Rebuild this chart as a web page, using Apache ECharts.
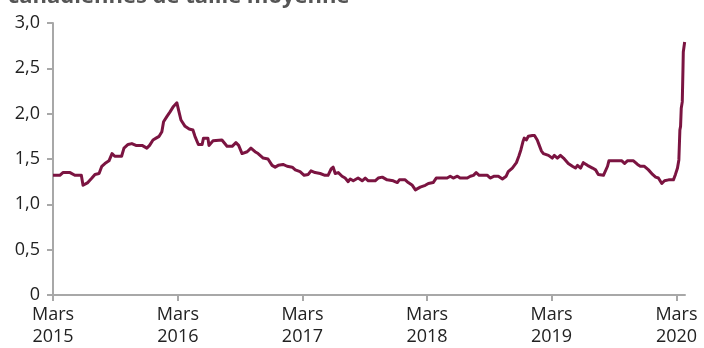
<!DOCTYPE html>
<html>
<head>
<meta charset="utf-8">
<script src="https://cdn.jsdelivr.net/npm/echarts@6/dist/echarts.min.js"></script>
<style>
  html, body { margin: 0; padding: 0; background: #fff; }
  #chart { width: 704px; height: 348px; }
</style>
</head>
<body>
<div id="chart"></div>
<script>
// Weekly-ish readings of the ratio, March 2015 to March 2020
const dates = [
  '2015-03-01','2015-03-21','2015-03-30','2015-04-20','2015-05-04','2015-05-23','2015-05-28','2015-06-11',
  '2015-06-23','2015-07-02','2015-07-14','2015-07-22','2015-07-31','2015-08-12','2015-08-21','2015-08-25',
  '2015-08-29','2015-09-18','2015-09-25','2015-10-07','2015-10-18','2015-10-30','2015-11-17','2015-12-01',
  '2015-12-09','2015-12-19','2015-12-28','2016-01-06','2016-01-14','2016-01-19','2016-01-29','2016-02-07',
  '2016-02-17','2016-02-27','2016-03-03','2016-03-10','2016-03-22','2016-04-03','2016-04-14','2016-04-20',
  '2016-04-30','2016-05-11','2016-05-15','2016-05-28','2016-05-31','2016-06-12','2016-07-08','2016-07-23',
  '2016-08-07','2016-08-18','2016-08-26','2016-09-05','2016-09-20','2016-10-01','2016-10-13','2016-10-22',
  '2016-11-06','2016-11-20','2016-12-02','2016-12-11','2016-12-20','2017-01-03','2017-01-15','2017-01-30',
  '2017-02-08','2017-02-22','2017-03-06','2017-03-18','2017-03-26','2017-04-07','2017-04-22','2017-05-06',
  '2017-05-15','2017-05-24','2017-05-30','2017-06-05','2017-06-14','2017-06-25','2017-07-04','2017-07-13',
  '2017-07-19','2017-07-28','2017-08-11','2017-08-23','2017-09-01','2017-09-10','2017-09-30','2017-10-09',
  '2017-10-21','2017-11-04','2017-11-22','2017-12-04','2017-12-10','2017-12-27','2018-01-05','2018-01-17',
  '2018-01-26','2018-01-31','2018-02-09','2018-02-24','2018-03-05','2018-03-19','2018-03-28','2018-04-29',
  '2018-05-08','2018-05-17','2018-05-29','2018-06-06','2018-06-27','2018-07-06','2018-07-15','2018-07-23',
  '2018-08-01','2018-08-25','2018-09-02','2018-09-14','2018-09-26','2018-10-08','2018-10-19','2018-10-25',
  '2018-11-06','2018-11-18','2018-11-25','2018-12-01','2018-12-07','2018-12-11','2018-12-17','2018-12-23',
  '2019-01-04','2019-01-10','2019-01-18','2019-01-24','2019-01-30','2019-02-05','2019-02-20','2019-03-03',
  '2019-03-09','2019-03-18','2019-03-27','2019-04-05','2019-04-19','2019-05-01','2019-05-10','2019-05-16',
  '2019-05-25','2019-06-02','2019-06-14','2019-06-29','2019-07-08','2019-07-16','2019-07-31','2019-08-12',
  '2019-08-16','2019-09-23','2019-10-01','2019-10-09','2019-10-27','2019-11-08','2019-11-16','2019-11-28',
  '2019-12-10','2019-12-22','2019-12-31','2020-01-08','2020-01-18','2020-01-26','2020-02-07','2020-02-21',
  '2020-02-27','2020-03-04','2020-03-08','2020-03-11','2020-03-13','2020-03-15','2020-03-18','2020-03-20',
  '2020-03-21','2020-03-25'
];
const ratio = [
  1.32,1.32,1.35,1.35,1.32,1.32,1.21,1.24,
  1.29,1.33,1.34,1.42,1.45,1.48,1.56,1.58,
  1.53,1.53,1.62,1.66,1.67,1.65,1.65,1.62,
  1.65,1.71,1.73,1.75,1.80,1.91,1.97,2.02,
  2.08,2.12,2.04,1.93,1.86,1.83,1.82,1.75,
  1.66,1.66,1.73,1.73,1.65,1.70,1.71,1.64,
  1.64,1.68,1.65,1.56,1.58,1.62,1.58,1.56,
  1.51,1.50,1.43,1.41,1.43,1.44,1.42,1.41,
  1.38,1.36,1.32,1.33,1.37,1.35,1.34,1.32,
  1.32,1.39,1.41,1.34,1.35,1.31,1.29,1.25,
  1.28,1.26,1.29,1.26,1.29,1.26,1.26,1.29,
  1.30,1.27,1.26,1.24,1.27,1.27,1.24,1.21,
  1.16,1.15,1.19,1.21,1.23,1.24,1.29,1.29,
  1.31,1.29,1.31,1.29,1.29,1.31,1.32,1.35,
  1.32,1.32,1.29,1.31,1.31,1.28,1.31,1.36,
  1.40,1.46,1.53,1.60,1.69,1.73,1.71,1.75,
  1.76,1.76,1.71,1.65,1.59,1.56,1.54,1.51,
  1.54,1.51,1.54,1.51,1.45,1.42,1.40,1.43,
  1.40,1.46,1.43,1.40,1.38,1.33,1.32,1.42,
  1.48,1.48,1.45,1.48,1.48,1.44,1.42,1.42,
  1.38,1.33,1.30,1.29,1.23,1.26,1.27,1.27,
  1.33,1.40,1.49,1.82,1.86,2.06,2.13,2.48,
  2.68,2.79
];
// Axis labels
const tickYears = [2015, 2016, 2017, 2018, 2019, 2020];
const tickMonthLabel = 'Mars';
const yTickLabels = ['0', '0,5', '1,0', '1,5', '2,0', '2,5', '3,0'];
const titleText = 'canadiennes de taille moyenne';

// Dates become day timestamps on a plain numeric axis
const toTime = s => { const p = s.split('-').map(Number); return Date.UTC(p[0], p[1] - 1, p[2]); };
const yearTicks = tickYears.map(y => Date.UTC(y, 2, 1));
const axisGray = '#a8a8a8';
const labelFont = '"Open Sans", "Noto Sans", sans-serif';

const chart = echarts.init(document.getElementById('chart'), null, { renderer: 'canvas' });
chart.setOption({
  animation: false,
  backgroundColor: '#ffffff',
  graphic: [{
    type: 'text',
    left: 8,
    top: -14,
    style: {
      text: titleText,
      fontFamily: labelFont,
      fontWeight: 'bold',
      fontSize: 22,
      fill: '#555555'
    }
  }],
  grid: { left: 53, right: 19, top: 23, bottom: 53, containLabel: false, outerBoundsMode: 'none' },
  xAxis: {
    type: 'value',
    min: toTime('2015-03-01'),
    max: toTime('2020-03-26'),
    splitLine: { show: false },
    axisLine: { show: true, lineStyle: { color: axisGray, width: 2 } },
    axisTick: { show: true, customValues: yearTicks, length: 6, lineStyle: { color: axisGray, width: 2 } },
    axisLabel: {
      customValues: yearTicks,
      hideOverlap: false,
      margin: 9,
      color: '#222',
      fontFamily: labelFont,
      fontSize: 18,
      lineHeight: 22,
      formatter: v => tickMonthLabel + '\n' + new Date(v).getUTCFullYear()
    }
  },
  yAxis: {
    type: 'value',
    min: 0,
    max: 3,
    interval: 0.5,
    splitLine: { show: false },
    axisLine: { show: true, lineStyle: { color: axisGray, width: 2 } },
    axisTick: { show: true, length: 6, lineStyle: { color: axisGray, width: 2 } },
    axisLabel: {
      margin: 13,
      color: '#222',
      fontFamily: labelFont,
      fontSize: 18,
      formatter: v => yTickLabels[Math.round(v / 0.5)]
    }
  },
  series: [{
    type: 'line',
    data: dates.map((d, i) => [toTime(d), ratio[i]]),
    showSymbol: false,
    smooth: false,
    lineStyle: { color: '#7b1441', width: 3, join: 'round' },
    itemStyle: { color: '#7b1441' }
  }]
});
</script>
</body>
</html>
